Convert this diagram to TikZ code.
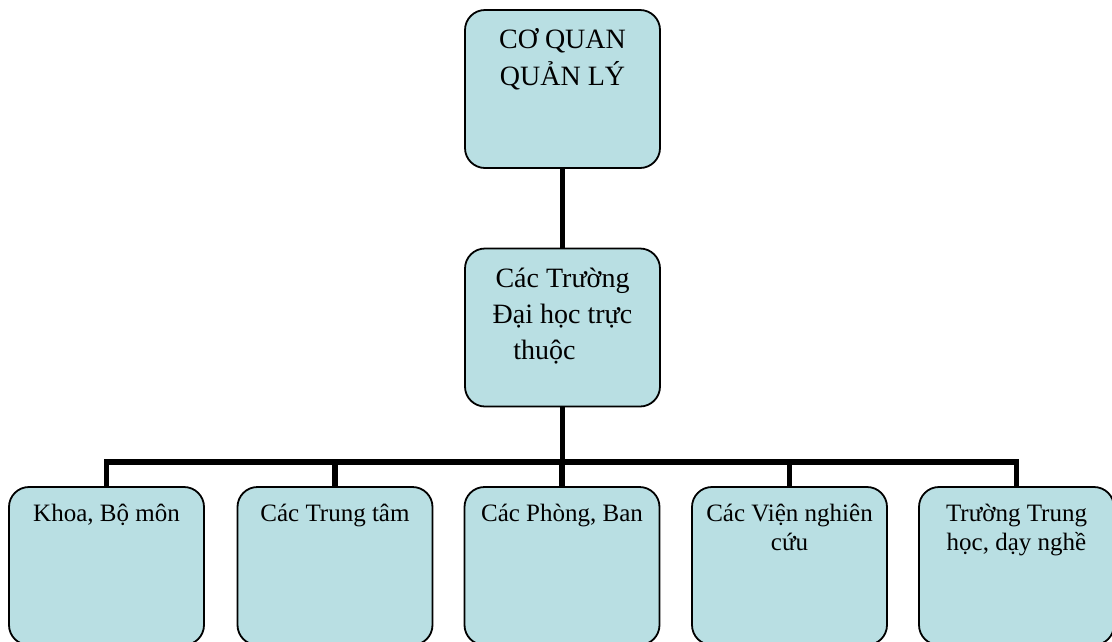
\documentclass[tikz,border=0pt]{standalone}
\usepackage{fontspec}
\setmainfont{Liberation Serif}
\usepackage{xcolor}
\usetikzlibrary{positioning}
\definecolor{boxblue}{RGB}{185,223,227}

\begin{document}
\begin{tikzpicture}[x=1pt, y=-1pt,
    box/.style={draw, line width=1.8pt, fill=boxblue, rounded corners=20pt,
        minimum width=195pt, minimum height=158pt, inner sep=0pt},
    txt/.style={anchor=base, inner sep=0pt},
    conn/.style={line width=5.5pt}]
    \useasboundingbox (0,0) rectangle (1112,641);

    % 上两层
    \node[box] (top) at (562.5, 89) {};
    \node[box] (mid) at (562.5, 327.5) {};
    \node[txt] (toptxt) at (562.5, 48)
        {\parbox[t]{190pt}{\fontsize{28}{37}\selectfont\centering CƠ QUAN\\QUẢN LÝ}};
    \node[txt] (midtxt) at (562.5, 287)
        {\parbox[t]{190pt}{\fontsize{28}{36}\selectfont\centering Các Trường\\Đại học trực\\thuộc\hspace*{36pt}}};

    % 下层
    \foreach \i/\x/\t in {1/106.5/{Khoa, Bộ môn}, 2/335/{Các Trung tâm},
        3/562/{Các Phòng, Ban}, 4/789.5/{Các Viện nghiên\\cứu},
        5/1016.5/{Trường Trung\\học, dạy nghề}} {
        \node[box] (b\i) at (\x, 566) {};
        \node[txt] (t\i) at (\x, 521)
            {\parbox[t]{190pt}{\fontsize{25}{29}\selectfont\centering \t}};
    }

    % 连线
    \coordinate (bus) at (562.5, 462);
    \draw[conn] (top) -- (mid);
    \draw[conn] (mid) -- (bus);
    \draw[conn] (b1.north) |- (bus) -| (b5.north);
    \foreach \i in {2,3,4} {
        \draw[conn] (b\i.north) -- (b\i.north |- bus);
    }
\end{tikzpicture}
\end{document}
